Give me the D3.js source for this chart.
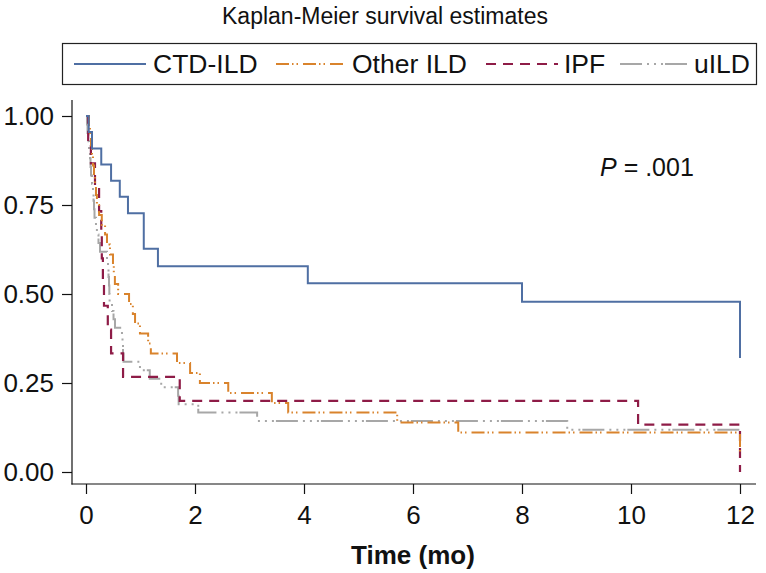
<!DOCTYPE html>
<html>
<head>
<meta charset="utf-8">
<script src="https://cdn.jsdelivr.net/npm/d3@7"></script>
<style>
  html, body { margin: 0; padding: 0; background: #fff; }
  svg { display: block; font-family: "Liberation Sans", Arial, Helvetica, sans-serif; }
</style>
</head>
<body>
<svg id="chart" width="766" height="573"></svg>
<script>
// ---- data (time in months, survival probability) ----
const seriesNames = ["CTD-ILD", "Other ILD", "IPF", "uILD"];

const ctdTimes = [0, 0.05, 0.11, 0.28, 0.46, 0.62, 0.77, 1.06, 1.32, 4.07, 8.0, 12.0];
const ctdSurv  = [1, 0.955, 0.909, 0.864, 0.818, 0.773, 0.727, 0.627, 0.578, 0.530, 0.478, 0.320];

const otherTimes = [0, 0.055, 0.073, 0.092, 0.11, 0.128, 0.147, 0.165, 0.183, 0.2,
  0.24, 0.29, 0.35, 0.385, 0.44, 0.495, 0.51, 0.53, 0.59,
  0.79, 0.86, 0.9, 0.99, 1.14, 1.19, 1.67, 1.91, 2.09, 2.61, 3.41, 3.71, 5.71, 6.83, 12.0];
const otherSurv = [1, 0.972, 0.944, 0.917, 0.889, 0.861, 0.833, 0.806, 0.778, 0.750,
  0.722, 0.694, 0.667, 0.639, 0.611, 0.583, 0.556, 0.528, 0.500,
  0.472, 0.444, 0.417, 0.389, 0.361, 0.333, 0.306, 0.278, 0.250, 0.222, 0.194, 0.167, 0.139, 0.111, 0.056];

const ipfTimes = [0, 0.04, 0.09, 0.165, 0.24, 0.28, 0.29, 0.31, 0.33, 0.40, 0.46, 0.68, 1.72, 10.13, 12.0];
const ipfSurv  = [1, 0.933, 0.867, 0.800, 0.733, 0.667, 0.600, 0.533, 0.467, 0.400, 0.333, 0.267, 0.200, 0.133, 0];

const uildTimes = [0, 0.018, 0.028, 0.046, 0.055, 0.073, 0.083, 0.092, 0.11, 0.128, 0.138,
  0.147, 0.156, 0.183, 0.2, 0.229, 0.257, 0.385, 0.404, 0.413, 0.422,
  0.428, 0.433, 0.477, 0.505, 0.532, 0.66, 0.67, 0.679, 0.688, 0.99,
  1.17, 1.38, 1.69, 1.70, 2.06, 3.14, 8.83, 12.0];
const uildSurv = [1, 0.976, 0.952, 0.929, 0.905, 0.881, 0.857, 0.833, 0.810, 0.786, 0.762,
  0.738, 0.714, 0.690, 0.667, 0.643, 0.619, 0.595, 0.571, 0.548, 0.524,
  0.500, 0.476, 0.452, 0.429, 0.405, 0.381, 0.357, 0.333, 0.310, 0.286,
  0.262, 0.238, 0.214, 0.190, 0.167, 0.143, 0.119, 0.095];

const xTicks = [0, 2, 4, 6, 8, 10, 12];
const yTicks = [0, 0.25, 0.5, 0.75, 1.0];
const yTickLabels = ["0.00", "0.25", "0.50", "0.75", "1.00"];

const titleText = "Kaplan-Meier survival estimates";
const xLabel = "Time (mo)";

// ---- styles ----
const styles = [
  { color: "#4f6fa3", dash: null, width: 2 },
  { color: "#d9832c", dash: "13,3,1.5,3,1.5,5", width: 2 },
  { color: "#8e1c47", dash: "10,7", width: 2.2 },
  { color: "#a7a7a7", dash: "22,5,2,5,2,5,2,2", width: 2 }
];

const series = [
  { name: seriesNames[0], t: ctdTimes, s: ctdSurv },
  { name: seriesNames[1], t: otherTimes, s: otherSurv },
  { name: seriesNames[2], t: ipfTimes, s: ipfSurv },
  { name: seriesNames[3], t: uildTimes, s: uildSurv }
];

const svg = d3.select("#chart");

const x = d3.scaleLinear().domain([0, 12]).range([86, 740]);
const y = d3.scaleLinear().domain([0, 1]).range([472, 116]);

const axisLeftX = 72, axisBottomY = 484, plotTop = 100, plotRight = 756;

// title
svg.append("text")
  .attr("x", 385).attr("y", 24)
  .attr("text-anchor", "middle")
  .attr("font-size", 23)
  .attr("fill", "#111")
  .text(titleText);

// legend
const legend = svg.append("g");
legend.append("rect")
  .attr("x", 62.5).attr("y", 43.5).attr("width", 694).attr("height", 41)
  .attr("fill", "none").attr("stroke", "#222").attr("stroke-width", 1.2);
const legendPos = [
  { x1: 74, x2: 146, tx: 153 },
  { x1: 276, x2: 346, tx: 352 },
  { x1: 486, x2: 558, tx: 564 },
  { x1: 620, x2: 687, tx: 694 }
];
series.forEach((sr, i) => {
  const p = legendPos[i], st = styles[i];
  legend.append("line")
    .attr("x1", p.x1).attr("x2", p.x2).attr("y1", 64).attr("y2", 64)
    .attr("stroke", st.color).attr("stroke-width", st.width)
    .attr("stroke-dasharray", st.dash);
  legend.append("text")
    .attr("x", p.tx).attr("y", 73)
    .attr("font-size", 26.5).attr("fill", "#111")
    .text(sr.name);
});

// axes
const yAxis = d3.axisLeft(y).tickValues(yTicks)
  .tickFormat((d, i) => yTickLabels[i]).tickSizeOuter(0).tickSize(10).tickPadding(8);
const gy = svg.append("g").attr("transform", `translate(${axisLeftX},0)`).call(yAxis);
gy.select(".domain").remove();
gy.selectAll(".tick line").attr("stroke", "#111").attr("stroke-width", 1.2);
gy.selectAll(".tick text").attr("font-size", 26).attr("fill", "#111")
  .attr("font-family", "Liberation Sans, Arial, sans-serif");

const xAxis = d3.axisBottom(x).tickValues(xTicks).tickSizeOuter(0).tickSize(10).tickPadding(12);
const gx = svg.append("g").attr("transform", `translate(0,${axisBottomY})`).call(xAxis);
gx.select(".domain").remove();
gx.selectAll(".tick line").attr("stroke", "#111").attr("stroke-width", 1.2);
gx.selectAll(".tick text").attr("font-size", 26).attr("fill", "#111")
  .attr("font-family", "Liberation Sans, Arial, sans-serif");

svg.append("line")
  .attr("x1", axisLeftX).attr("x2", axisLeftX).attr("y1", plotTop).attr("y2", axisBottomY + 0.6)
  .attr("stroke", "#111").attr("stroke-width", 1.2);
svg.append("line")
  .attr("x1", axisLeftX - 0.6).attr("x2", plotRight).attr("y1", axisBottomY).attr("y2", axisBottomY)
  .attr("stroke", "#111").attr("stroke-width", 1.2);

// x label
svg.append("text")
  .attr("x", 413).attr("y", 564)
  .attr("text-anchor", "middle")
  .attr("font-size", 26).attr("font-weight", "bold").attr("fill", "#111")
  .text(xLabel);

// P value
const pText = svg.append("text")
  .attr("x", 600).attr("y", 176)
  .attr("font-size", 25).attr("fill", "#111");
pText.append("tspan").attr("font-style", "italic").text("P");
pText.append("tspan").text(" = .001");

// curves
const line = d3.line().curve(d3.curveStepAfter).x(d => x(d[0])).y(d => y(d[1]));
const curveG = svg.append("g");
[3, 2, 1, 0].forEach(i => {
  const sr = series[i], st = styles[i];
  const pts = sr.t.map((t, j) => [t, sr.s[j]]);
  curveG.append("path")
    .attr("d", line(pts))
    .attr("fill", "none")
    .attr("stroke", st.color)
    .attr("stroke-width", st.width)
    .attr("stroke-dasharray", st.dash);
});
</script>
</body>
</html>
